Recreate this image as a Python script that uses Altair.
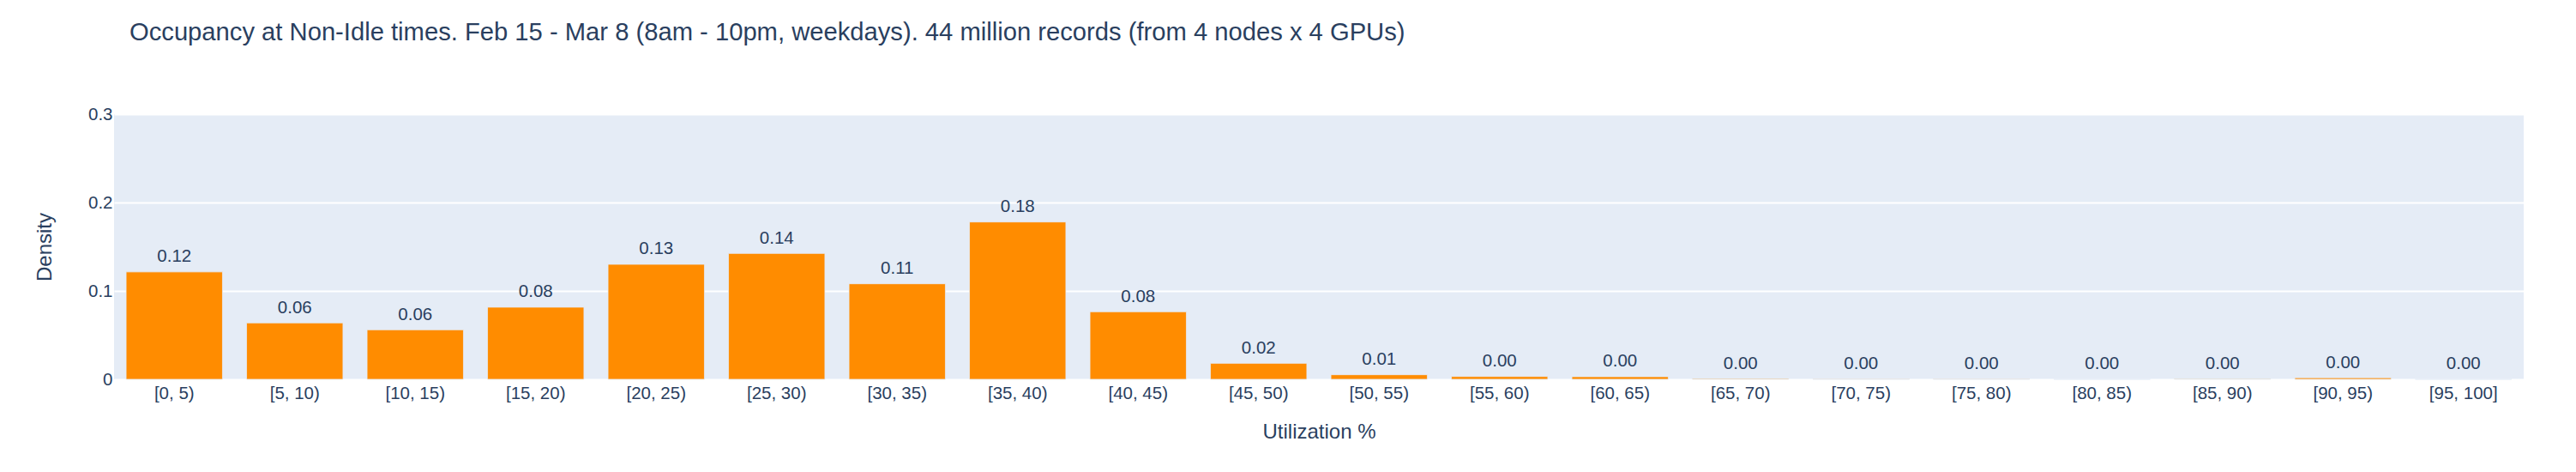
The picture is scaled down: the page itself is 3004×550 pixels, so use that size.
import altair as alt
import pandas as pd

# ---- data ----
categories = ["[0, 5)", "[5, 10)", "[10, 15)", "[15, 20)", "[20, 25)",
              "[25, 30)", "[30, 35)", "[35, 40)", "[40, 45)", "[45, 50)",
              "[50, 55)", "[55, 60)", "[60, 65)", "[65, 70)", "[70, 75)",
              "[75, 80)", "[80, 85)", "[85, 90)", "[90, 95)", "[95, 100]"]
density = [0.1215, 0.0638, 0.0560, 0.0816, 0.1301,
           0.1424, 0.1081, 0.1780, 0.0764, 0.0181,
           0.0052, 0.0032, 0.0030, 0.0008, 0.0002,
           0.0002, 0.0001, 0.0006, 0.0018, 0.0001]
y_ticks = [0, 0.1, 0.2, 0.3]

TITLE = ("Occupancy at Non-Idle times. Feb 15 - Mar 8 (8am - 10pm, weekdays). "
         "44 million records (from 4 nodes x 4 GPUs)")

FONT = "Liberation Sans, Arial, sans-serif"
TXT = "#2a3f5f"

df = pd.DataFrame({"bin": categories, "density": density})

base = alt.Chart(df).encode(
    x=alt.X("bin:N", sort=categories,
            scale=alt.Scale(paddingInner=0.2, paddingOuter=0.1),
            axis=alt.Axis(title="Utilization %", labelAngle=0, labelFontSize=20.5,
                          labelPadding=6, titleFontSize=24, titleY=68.7,
                          titleBaseline="alphabetic", grid=False)),
    y=alt.Y("density:Q", scale=alt.Scale(domain=[0, 0.3], nice=False),
            axis=alt.Axis(title="Density", values=y_ticks, format="~g",
                          labelFontSize=20.5, labelPadding=2, titleFontSize=24,
                          titleX=-73.5, titleY=154.5, titleAngle=-90,
                          titleAlign="center", titleBaseline="alphabetic",
                          grid=True, gridColor="white", gridWidth=2)),
)

bars = base.mark_bar(color="#FF8C00", stroke="#E5ECF6", strokeWidth=0.8)

text = base.mark_text(baseline="alphabetic", dy=-11.5, fontSize=20.5,
                      color=TXT, font=FONT).encode(
    text=alt.Text("density:Q", format=".2f"))

chart = (bars + text).properties(
    width=2810, height=309,
    background="white",
    title=alt.TitleParams(TITLE, anchor="start", frame="group", dx=18,
                          fontSize=29.2, font=FONT, color=TXT, fontWeight="normal",
                          baseline="alphabetic", offset=47),
    padding={"left": 125, "top": 125, "right": 40, "bottom": 90},
    autosize=alt.AutoSizeParams(type="none"),
).configure_view(fill="#E5ECF6", stroke=None).configure_axis(
    domain=False, ticks=False, tickSize=0, labelColor=TXT, titleColor=TXT,
    labelFont=FONT, titleFont=FONT, titleFontWeight="normal",
)

chart.save("out.html", embed_options={"renderer": "svg", "actions": False})
